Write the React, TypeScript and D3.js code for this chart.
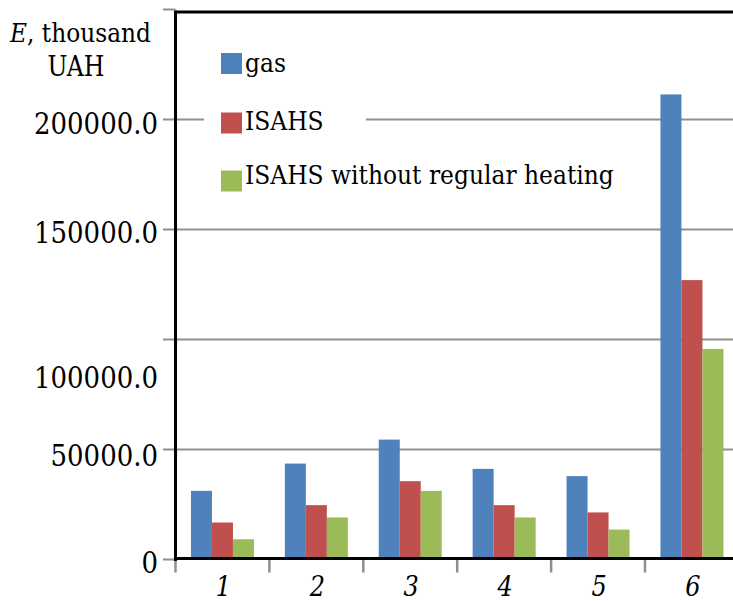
import React, { useEffect } from "react";
import * as d3 from "d3";

const categories = ["1", "2", "3", "4", "5", "6"];
const seriesNames = ["gas", "ISAHS", "ISAHS without regular heating"];
const gasValues = [31200, 43600, 54500, 41200, 37900, 211400];
const isahsValues = [16800, 24700, 35600, 24700, 21400, 127000];
const isahsNoHeatValues = [9200, 19100, 31200, 19100, 13600, 95700];
const tickValues = [0, 50000, 100000, 150000, 200000, 250000];
const tickLabels = ["0", "50000.0", "100000.0", "150000.0", "200000.0", ""];
const tickLabelShift = [13.5, 16, 48, 13, 14, 0];
const colors = ["#4F81BD", "#C0504D", "#9BBB59"];

const W = 733;
const H = 601;
const left = 175.5;
const bottom = 559.5;
const step = 93.9;
const FONT = "DejaVu Serif, serif";
const SY = 1.15;

function T(props: {
  x: number;
  y: number;
  size: number;
  anchor?: string;
  italic?: boolean;
  children: React.ReactNode;
}) {
  return (
    <text
      transform={`translate(${props.x},${props.y}) scale(1,${SY})`}
      textAnchor={props.anchor || "start"}
      fontFamily={FONT}
      fontStyle={props.italic ? "italic" : "normal"}
      fontSize={props.size}
      fill="#000"
    >
      {props.children}
    </text>
  );
}

export default function App() {
  useEffect(() => {
    document.body.style.margin = "0";
    document.body.style.overflow = "hidden";
  }, []);

  const seriesValues = [gasValues, isahsValues, isahsNoHeatValues];
  const y = d3.scaleLinear().domain([0, 250000]).range([bottom, bottom - 550]);
  const pIn = 0.329;
  const x0 = d3
    .scaleBand<string>()
    .domain(categories)
    .range([left, left + step * categories.length])
    .paddingInner(pIn)
    .paddingOuter(pIn / 2);
  const x1 = d3.scaleBand<string>().domain(seriesNames).range([0, x0.bandwidth()]);
  const xTicks = d3.range(categories.length + 1).map((i) => left + i * x0.step());

  return (
    <svg width={W} height={H} style={{ display: "block", background: "#fff" }}>
      {tickValues.slice(1, 5).map((v) => (
        <line key={"g" + v} x1={left} x2={W} y1={y(v)} y2={y(v)} stroke="#8f8f8f" strokeWidth={2} />
      ))}
      {tickValues.map((v) => (
        <line key={"t" + v} x1={163} x2={left} y1={y(v)} y2={y(v)} stroke="#8f8f8f" strokeWidth={2} />
      ))}
      {xTicks.map((t, i) => (
        <line key={"xt" + i} x1={t} x2={t} y1={bottom} y2={bottom + 13} stroke="#8f8f8f" strokeWidth={2.5} />
      ))}
      {categories.map((c, ci) =>
        seriesNames.map((s, si) => (
          <rect
            key={c + s}
            x={(x0(c) as number) + (x1(s) as number)}
            y={y(seriesValues[si][ci])}
            width={x1.bandwidth()}
            height={bottom - y(seriesValues[si][ci])}
            fill={colors[si]}
          />
        ))
      )}
      <line x1={left} x2={W} y1={y(250000) + 2.5} y2={y(250000) + 2.5} stroke="#000" strokeWidth={3} />
      <line x1={left} x2={left} y1={y(250000) + 1} y2={bottom + 1.5} stroke="#000" strokeWidth={3} />
      <line x1={left - 1.5} x2={W} y1={bottom - 1} y2={bottom - 1} stroke="#000" strokeWidth={3} />
      {tickValues.map((v, i) => (
        <T key={"yl" + v} x={158} y={y(v) + tickLabelShift[i]} size={26} anchor="end">
          {tickLabels[i]}
        </T>
      ))}
      {categories.map((c) => (
        <T key={"xl" + c} x={(x0(c) as number) + x0.bandwidth() / 2 + 1} y={596} size={24} anchor="middle" italic>
          {c}
        </T>
      ))}
      <T x={10} y={42} size={23.3}>
        <tspan fontStyle="italic">E</tspan>, thousand
      </T>
      <T x={76} y={76} size={23.7} anchor="middle">
        UAH
      </T>
      <rect x={204} y={100} width={162} height={42} fill="#fff" />
      {seriesNames.map((s, i) => {
        const ly = [63.5, 123, 181][i];
        const ty = [71.5, 130, 183.5][i];
        return (
          <g key={"lg" + s}>
            <rect x={221} y={ly - 10.5} width={21} height={21} fill={colors[i]} />
            <T x={245} y={ty} size={23.4}>
              {s}
            </T>
          </g>
        );
      })}
    </svg>
  );
}
